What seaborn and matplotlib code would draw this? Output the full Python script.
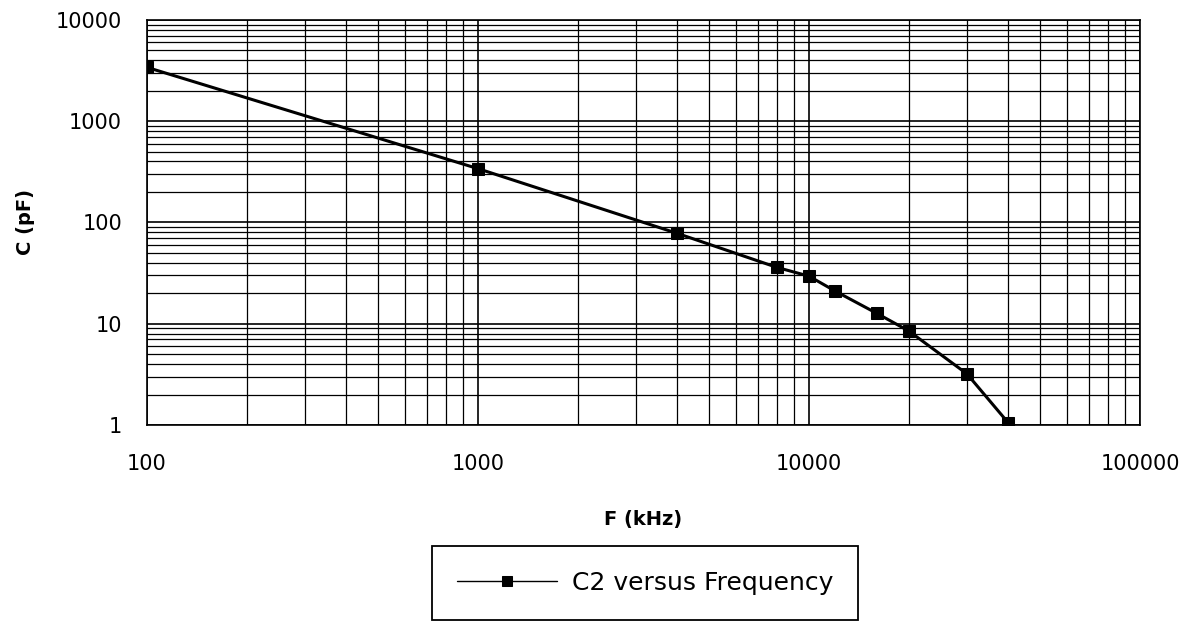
import matplotlib
matplotlib.use("Agg")
import matplotlib.pyplot as plt
import seaborn as sns
import pandas as pd
from matplotlib.ticker import LogLocator, FixedLocator, FixedFormatter, NullFormatter

freq_khz = [100, 1000, 4000, 8000, 10000, 12000, 16000, 20000, 30000, 40000]
cap_pf = [3400, 340, 78, 36, 29.5, 21, 12.7, 8.5, 3.2, 1.05]
series_name = "C2 versus Frequency"
x_ticks = [100, 1000, 10000, 100000]
x_labels = ["100", "1000", "10000", "100000"]
y_ticks = [1, 10, 100, 1000, 10000]
y_labels = ["1", "10", "100", "1000", "10000"]

df = pd.DataFrame({"F": freq_khz, "C": cap_pf, "series": series_name})

sns.set_style("white")
plt.rcParams["font.family"] = ["DejaVu Sans"]
plt.rcParams["text.color"] = "black"
plt.rcParams["axes.labelcolor"] = "black"
plt.rcParams["xtick.color"] = "black"
plt.rcParams["ytick.color"] = "black"

fig = plt.figure(figsize=(11.9, 6.22), dpi=100)
ax = fig.add_axes([0.1235, 0.3167, 0.8345, 0.6513])

sns.lineplot(data=df, x="F", y="C", hue="series", palette=["black"],
             marker="s", markersize=9, markeredgecolor="black",
             linewidth=2.2, ax=ax, zorder=5)

ax.set_xscale("log")
ax.set_yscale("log")
ax.set_xlim(100, 100000)
ax.set_ylim(1, 10000)

ax.xaxis.set_major_locator(FixedLocator(x_ticks))
ax.xaxis.set_major_formatter(FixedFormatter(x_labels))
ax.yaxis.set_major_locator(FixedLocator(y_ticks))
ax.yaxis.set_major_formatter(FixedFormatter(y_labels))
ax.xaxis.set_minor_locator(LogLocator(base=10, subs=range(2, 10), numticks=20))
ax.yaxis.set_minor_locator(LogLocator(base=10, subs=range(2, 10), numticks=20))
ax.xaxis.set_minor_formatter(NullFormatter())
ax.yaxis.set_minor_formatter(NullFormatter())

ax.grid(True, which="major", color="black", linewidth=1.2)
ax.grid(True, which="minor", color="black", linewidth=0.9)

for s in ax.spines.values():
    s.set_color("black")
    s.set_linewidth(1.2)

ax.tick_params(axis="y", which="major", direction="out", length=6, width=1,
               color="black", labelsize=15, pad=12, labelcolor="black")
ax.tick_params(axis="x", which="major", direction="out", length=5, width=1,
               color="black", labelsize=15, pad=16, labelcolor="black")
ax.tick_params(which="minor", length=0)

ax.set_xlabel("F (kHz)", fontsize=14, fontweight="bold", color="black")
ax.set_ylabel("C (pF)", fontsize=14, fontweight="bold", color="black")
ax.xaxis.set_label_coords(0.5, -0.21)
ax.yaxis.set_label_coords(-0.113, 0.5)

leg = ax.legend(loc="upper center", bbox_to_anchor=(0.5013, -0.2988), frameon=True,
                fancybox=False, framealpha=1, fontsize=18, handlelength=4,
                borderpad=1.0, handletextpad=0.6, borderaxespad=0)
leg.get_frame().set_edgecolor("black")
leg.get_frame().set_linewidth(1.3)
for t in leg.get_texts():
    t.set_color("black")
for h in leg.legend_handles:
    h.set_linewidth(1)
    h.set_markersize(7)

fig.savefig("out.png", dpi=100, facecolor="white")
